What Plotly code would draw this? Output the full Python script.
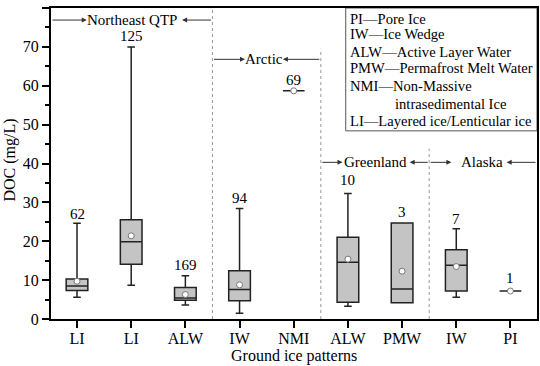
import plotly.graph_objects as go

# ---- data ----
positions = [1, 2, 3, 4, 5, 6, 7, 8, 9]
tick_labels = ["LI", "LI", "ALW", "IW", "NMI", "ALW", "PMW", "IW", "PI"]
lower_fence = [5.6, 8.7, 3.6, 1.5, 58.7, 3.3, 4.2, 5.6, 7.2]
q1_vals = [7.3, 14.1, 4.8, 4.7, 58.7, 4.3, 4.2, 7.2, 7.2]
median_vals = [8.5, 19.9, 5.4, 7.6, 58.7, 14.6, 7.7, 13.8, 7.2]
q3_vals = [10.3, 25.5, 8.1, 12.4, 58.7, 21.0, 24.7, 17.8, 7.2]
upper_fence = [24.6, 70.0, 11.1, 28.4, 58.7, 32.3, 24.7, 23.2, 7.2]
mean_vals = [9.7, 21.4, 6.3, 8.8, 58.7, 15.4, 12.3, 13.5, 7.2]
counts = ["62", "125", "169", "94", "69", "10", "3", "7", "1"]
count_y = [27.1, 72.8, 14.0, 31.0, 61.4, 35.7, 27.5, 25.7, 10.6]

regions = ["Northeast QTP", "Arctic", "Greenland", "Alaska"]
legend_lines = ["PI\u2014Pore Ice", "IW\u2014Ice Wedge", "ALW\u2014Active Layer Water",
                "PMW\u2014Permafrost Melt Water", "NMI\u2014Non-Massive",
                "intrasedimental Ice", "LI\u2014Layered ice/Lenticular ice"]

FONT = "Liberation Serif"

fig = go.Figure()
fig.add_trace(go.Box(
    x=positions, q1=q1_vals, median=median_vals, q3=q3_vals,
    lowerfence=lower_fence, upperfence=upper_fence,
    width=0.4, whiskerwidth=0.35, fillcolor="#c4c4c4",
    line=dict(color="#222222", width=1.5), boxpoints=False,
    showlegend=False, hoverinfo="skip"))
fig.add_trace(go.Scatter(
    x=positions, y=mean_vals, mode="markers",
    marker=dict(symbol="circle", size=6, color="white",
                line=dict(color="#777777", width=1)),
    showlegend=False, hoverinfo="skip"))

annotations = []
for xp, lab, yv in zip(positions, counts, count_y):
    annotations.append(dict(x=xp, y=yv, text=lab, showarrow=False,
                            font=dict(family=FONT, size=15, color="black"),
                            xanchor="center", yanchor="middle"))

# region labels with arrows
region_specs = [
    (regions[0], 2.01, 76.9, 0.52, 1.18, 3.5, 2.94),
    (regions[1], 4.45, 66.8, 3.5, 4.10, 5.5, 4.80),
    (regions[2], 6.51, 40.3, 5.5, 5.90, 7.5, 7.14),
    (regions[3], 8.48, 40.3, 7.5, 7.91, 9.49, 8.93),
]
for name, xc, yv, lt, lh, rt, rh in region_specs:
    annotations.append(dict(x=xc, y=yv, text=name, showarrow=False,
                            font=dict(family=FONT, size=15, color="black"),
                            xanchor="center", yanchor="middle"))
    for tail, head in ((lt, lh), (rt, rh)):
        annotations.append(dict(x=head, y=yv, ax=tail, ay=yv, axref="x", ayref="y",
                                xref="x", yref="y", text="", showarrow=True,
                                arrowhead=2, arrowsize=1, arrowwidth=1,
                                arrowcolor="#333333", standoff=0))

# legend text
leg_y = [77.3, 73.2, 68.8, 64.5, 59.9, 55.2, 50.9]
for i, (txt, yv) in enumerate(zip(legend_lines, leg_y)):
    annotations.append(dict(x=6.84 if i == 5 else 6.01, y=yv, text=txt, showarrow=False,
                            font=dict(family=FONT, size=14.6, color="black"),
                            xanchor="left", yanchor="middle"))

# axis titles
annotations.append(dict(xref="paper", yref="paper", x=0.5, y=-0.118,
                        text="Ground ice patterns", showarrow=False,
                        font=dict(family=FONT, size=16, color="black"),
                        xanchor="center", yanchor="middle"))
annotations.append(dict(xref="paper", yref="paper", x=-0.084, y=0.51,
                        text="DOC (mg/L)", showarrow=False, textangle=-90,
                        font=dict(family=FONT, size=16, color="black"),
                        xanchor="center", yanchor="middle"))

shapes = [
    dict(type="line", x0=3.5, x1=3.5, y0=0, y1=80, line=dict(color="#999999", width=1, dash="dot")),
    dict(type="line", x0=5.5, x1=5.5, y0=0, y1=69.5, line=dict(color="#999999", width=1, dash="dot")),
    dict(type="line", x0=7.5, x1=7.5, y0=0, y1=43.8, line=dict(color="#999999", width=1, dash="dot")),
    dict(type="rect", x0=5.96, x1=9.49, y0=48.4, y1=80, line=dict(color="#555555", width=1)),
]

fig.update_layout(
    width=540, height=366,
    margin=dict(l=51, r=3, t=8, b=47, autoexpand=False),
    paper_bgcolor="white", plot_bgcolor="white",
    font=dict(family=FONT, size=16, color="black"),
    annotations=annotations, shapes=shapes,
    xaxis=dict(range=[0.52, 9.49], tickmode="array", tickvals=positions,
               ticktext=tick_labels, ticks="outside", ticklen=7, tickwidth=1.5,
               tickcolor="black", showline=True, linecolor="black", linewidth=2,
               mirror=True, showgrid=False, zeroline=False, automargin=False,
               ticklabelstandoff=-3),
    yaxis=dict(range=[0, 80], dtick=10, ticks="outside", ticklen=7, tickwidth=1.5,
               tickcolor="black", showline=True, linecolor="black", linewidth=2,
               mirror=True, showgrid=False, zeroline=False, automargin=False,
               minor=dict(dtick=5, ticks="outside", ticklen=4, tickwidth=1.5,
                          tickcolor="black", showgrid=False)),
)

fig.write_html("out.html", config={"displayModeBar": False},
               post_script="document.body.style.margin='0';document.body.style.overflow='hidden';")
